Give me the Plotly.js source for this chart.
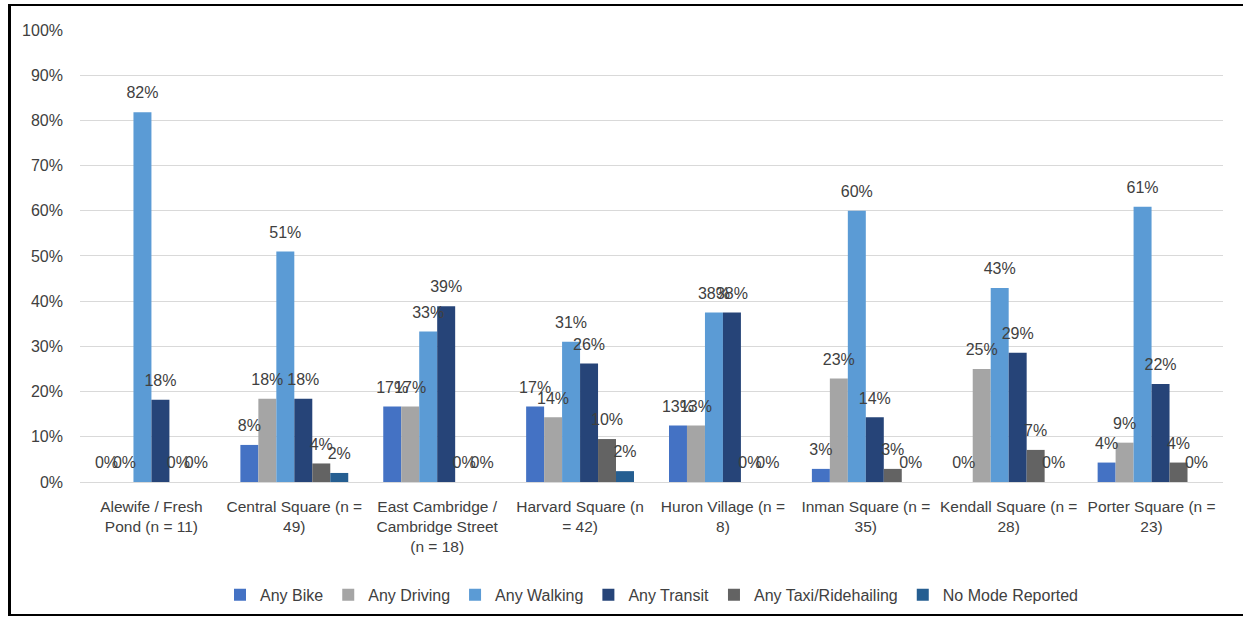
<!DOCTYPE html>
<html>
<head>
<meta charset="utf-8">
<script src="https://cdn.plot.ly/plotly-3.0.1.min.js"></script>
<style>
  html, body { margin: 0; padding: 0; background: #ffffff; }
  #wrap { position: relative; width: 1243px; height: 618px; overflow: hidden; background: #fff; }
  #frame { position: absolute; left: 8px; top: 4px; width: 1260px; height: 608px;
           border-left: 3px solid #000; border-top: 2px solid #000; border-bottom: 2px solid #000; pointer-events: none; }
  #chart { position: absolute; left: 0; top: 0; width: 1243px; height: 618px; }
</style>
</head>
<body>
<div id="wrap">
  <div id="chart"></div>
  <div id="frame"></div>
</div>
<script>
const categories = [
  "Alewife / Fresh<br>Pond (n = 11)",
  "Central Square (n =<br>49)",
  "East Cambridge /<br>Cambridge Street<br>(n = 18)",
  "Harvard Square (n<br>= 42)",
  "Huron Village (n =<br>8)",
  "Inman Square (n =<br>35)",
  "Kendall Square (n =<br>28)",
  "Porter Square (n =<br>23)"
];

const seriesNames = ["Any Bike", "Any Driving", "Any Walking", "Any Transit", "Any Taxi/Ridehailing", "No Mode Reported"];

const anyBike     = [0.000, 0.082, 0.167, 0.167, 0.125, 0.029, 0.000, 0.043];
const anyDriving  = [0.000, 0.184, 0.167, 0.143, 0.125, 0.229, 0.250, 0.087];
const anyWalking  = [0.818, 0.510, 0.333, 0.310, 0.375, 0.600, 0.429, 0.609];
const anyTransit  = [0.182, 0.184, 0.389, 0.262, 0.375, 0.143, 0.286, 0.217];
const anyTaxi     = [0.000, 0.041, 0.000, 0.095, 0.000, 0.029, 0.071, 0.043];
const noMode      = [0.000, 0.020, 0.000, 0.024, 0.000, 0.000, 0.000, 0.000];

const seriesValues = [anyBike, anyDriving, anyWalking, anyTransit, anyTaxi, noMode];
const seriesColors = ["#4472C4", "#A5A5A5", "#5B9BD5", "#264478", "#636363", "#255E91"];

const fontFamily = "Liberation Sans, Arial, sans-serif";
const textColor = "#404040";

const barTraces = seriesNames.map((name, i) => ({
  type: "bar",
  name: name,
  x: categories,
  y: seriesValues[i],
  marker: { color: seriesColors[i], line: { width: 0 } },
  hoverinfo: "x+y+name"
}));

const labelTraces = seriesNames.map((name, i) => ({
  type: "scatter",
  mode: "markers+text",
  name: name + " label",
  showlegend: false,
  x: categories,
  y: seriesValues[i],
  marker: { size: 14, color: "rgba(0,0,0,0)", line: { width: 0 } },
  texttemplate: "%{y:.0%}",
  textposition: "top center",
  cliponaxis: false,
  textfont: { family: fontFamily, size: 16, color: textColor },
  hoverinfo: "skip"
}));

const layout = {
  width: 1243,
  height: 618,
  margin: { l: 80, r: 20, t: 29, b: 136, autoexpand: false },
  paper_bgcolor: "#ffffff",
  plot_bgcolor: "#ffffff",
  barmode: "group",
  bargap: 0.245,
  bargroupgap: 0,
  scattermode: "group",
  scattergap: 0.245,
  font: { family: fontFamily, size: 15.5, color: textColor },
  xaxis: {
    type: "category",
    showgrid: false,
    showline: true,
    linecolor: "#D9D9D9",
    linewidth: 1,
    ticks: "",
    ticklabelstandoff: 10,
    tickfont: { family: fontFamily, size: 15.5, color: textColor },
    automargin: false
  },
  yaxis: {
    range: [0, 1.002],
    tickvals: [0, 0.1, 0.2, 0.3, 0.4, 0.5, 0.6, 0.7, 0.8, 0.9, 1.0],
    tickformat: ".0%",
    showgrid: true,
    gridcolor: "#D9D9D9",
    gridwidth: 1,
    zeroline: false,
    showline: false,
    ticks: "",
    ticklabelstandoff: 16,
    tickfont: { family: fontFamily, size: 16, color: textColor },
    automargin: false
  },
  showlegend: true,
  legend: {
    orientation: "h",
    x: 0.5,
    xanchor: "center",
    y: -0.249,
    yanchor: "middle",
    font: { family: fontFamily, size: 16, color: textColor },
    itemwidth: 30,
    tracegroupgap: 0
  }
};

Plotly.newPlot("chart", barTraces.concat(labelTraces), layout, { displayModeBar: false, staticPlot: true });
</script>
</body>
</html>
